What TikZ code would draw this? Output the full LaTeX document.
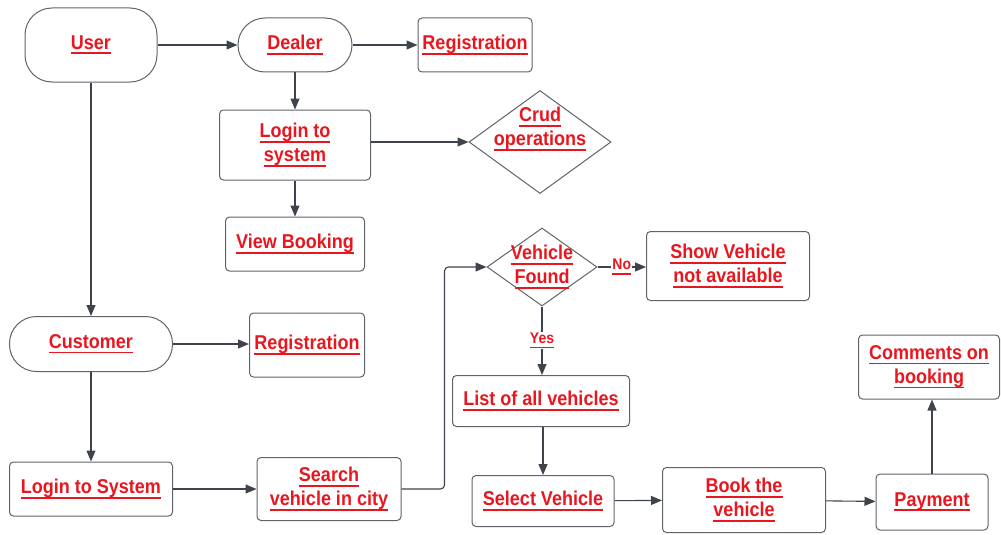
\documentclass[tikz,border=0pt]{standalone}
\usepackage{fontspec}
\setmainfont{Liberation Sans}[FakeStretch=0.9]
\usetikzlibrary{arrows.meta,shapes.geometric}
\definecolor{txtred}{RGB}{232,22,30}
\definecolor{boxgray}{RGB}{95,99,106}
\definecolor{linegray}{RGB}{62,67,76}
% underlined label text
\newcommand{\lbl}[1]{\leavevmode\setbox0\hbox{#1}\rlap{\vrule height -3pt depth 4.8pt width \wd0}\box0}
\tikzset{
  ctext/.style={text=txtred, align=center, font=\bfseries\fontsize{20}{24}\selectfont},
  box/.style={ctext, draw=boxgray, line width=1pt, rounded corners=4pt, inner sep=2pt},
  term/.style={box, rounded corners=27pt},
  cond/.style={draw=boxgray, line width=1pt, diamond, inner sep=0pt},
  arr/.style={draw=linegray, line width=1.1pt, -{Triangle[length=11pt,width=9pt]}},
  tag/.style={text=txtred, fill=white, inner sep=1pt, font=\bfseries\fontsize{15.5}{18}\selectfont}
}
\begin{document}
\begin{tikzpicture}[x=1pt,y=-1pt]
  \useasboundingbox (0,0) rectangle (1001,535);
  % dealer side
  \node[term, minimum width=132pt, minimum height=74pt] (user) at (91,45) {\lbl{User}};
  \node[term, minimum width=114pt, minimum height=54pt] (dealer) at (295,45) {\lbl{Dealer}};
  \node[box, minimum width=114pt, minimum height=54pt] (dreg) at (475,45) {\lbl{Registration}};
  \node[box, minimum width=151pt, minimum height=70pt] (dlogin) at (295,145) {\lbl{Login to}\\\lbl{system}};
  \node[cond, minimum width=142pt, minimum height=103pt,
    label={[ctext, yshift=13pt]center:{\lbl{Crud}\\\lbl{operations}}}] (crud) at (540,142) {};
  \node[box, minimum width=139pt, minimum height=54pt] (viewbk) at (295,244) {\lbl{View Booking}};
  % customer side
  \node[term, minimum width=163pt, minimum height=55pt] (customer) at (91,344) {\lbl{Customer}};
  \node[box, minimum width=115pt, minimum height=64pt] (creg) at (307,345) {\lbl{Registration}};
  \node[box, minimum width=163pt, minimum height=54pt] (clogin) at (91,489) {\lbl{Login to System}};
  \node[box, minimum width=144pt, minimum height=63pt] (search) at (329,489) {\lbl{Search}\\\lbl{vehicle in city}};
  \node[cond, minimum width=110pt, minimum height=78pt,
    label={[ctext, yshift=0pt]center:{\lbl{Vehicle}\\\lbl{Found}}}] (found) at (542,267) {};
  \node[box, minimum width=163pt, minimum height=69pt] (notavail) at (728,266) {\lbl{Show Vehicle}\\\lbl{not available}};
  \node[box, minimum width=177pt, minimum height=51pt] (vlist) at (541,401) {\lbl{List of all vehicles}};
  \node[box, minimum width=142pt, minimum height=51pt] (select) at (543,501) {\lbl{Select Vehicle}};
  \node[box, minimum width=163pt, minimum height=65pt] (book) at (744,500) {\lbl{Book the}\\\lbl{vehicle}};
  \node[box, minimum width=112pt, minimum height=56pt] (payment) at (932,502) {\lbl{Payment}};
  \node[box, minimum width=141pt, minimum height=64pt] (comments) at (929,367) {\lbl{Comments on}\\\lbl{booking}};

  % connectors
  \draw[arr] (user) -- (dealer);
  \draw[arr] (dealer) -- (dreg);
  \draw[arr] (dealer) -- (dlogin);
  \draw[arr] (dlogin.east |- crud.west) -- (crud.west);
  \draw[arr] (dlogin) -- (viewbk);
  \draw[arr] (user) -- (customer);
  \draw[arr] (customer) -- (creg.west |- customer.east);
  \draw[arr] (customer) -- (clogin);
  \draw[arr] (clogin) -- (search.west |- clogin.east);
  \draw[arr, rounded corners=4pt] (search.east) -- ++(43,0) |- (found.west);
  \draw[arr] (found.east) -- node[tag] {\lbl{No}} (notavail.west |- found.east);
  \draw[arr] (found.south) -- node[tag] {\lbl{Yes}} (found.south |- vlist.north);
  \draw[arr] (vlist.south -| select.north) -- (select.north);
  \draw[arr] (select) -- (book);
  \draw[arr] (book) -- (payment);
  \draw[arr] (payment.north) -- (payment.north |- comments.south);
\end{tikzpicture}
\end{document}
